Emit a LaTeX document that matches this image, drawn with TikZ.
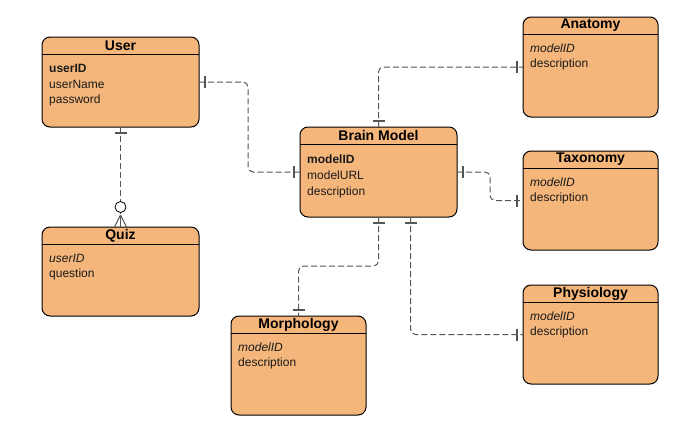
\documentclass[tikz,border=0pt]{standalone}
\usepackage{fontspec}
\setmainfont{Liberation Sans}
\begin{document}
\begin{tikzpicture}[x=1pt,y=-1pt,
  entity/.style={draw=black,fill=entfill,rounded corners=8pt,line width=1pt,
    anchor=north west,inner sep=0pt,outer sep=0pt},
  ttl/.style={font=\fontsize{14}{16}\selectfont\bfseries,text=black,inner sep=0pt},
  fld/.style={font=\fontsize{12}{14}\selectfont,text=txt,anchor=west,inner sep=0pt},
  conn/.style={draw=lnc,line width=1pt,dash pattern=on 6pt off 3pt,rounded corners=5pt},
  barline/.style={draw=lnc,line width=1.2pt},
  foot/.style={draw=lnc,line width=1pt}]
\definecolor{entfill}{HTML}{F4B67B}
\definecolor{lnc}{HTML}{555555}
\definecolor{txt}{HTML}{1A1A1A}
\useasboundingbox (0,0) rectangle (674,431);

% entities
\node[entity,minimum width=157pt,minimum height=90pt] (user) at (42,37) {};
\node[entity,minimum width=157pt,minimum height=89pt] (quiz) at (42,227) {};
\node[entity,minimum width=157pt,minimum height=90pt] (brain) at (300,127) {};
\node[entity,minimum width=135pt,minimum height=100pt] (anat) at (523,17) {};
\node[entity,minimum width=135pt,minimum height=99pt] (taxo) at (523,151) {};
\node[entity,minimum width=135pt,minimum height=99pt] (phys) at (523,285) {};
\node[entity,minimum width=135pt,minimum height=99pt] (morph) at (231,316) {};

% header separators
\foreach \e in {user,quiz,brain,anat,taxo,phys,morph}{
  \draw[line width=1pt] ([yshift=-17pt]\e.north west) -- ([yshift=-17pt]\e.north east);
}

% titles
\node[ttl] (tuser) at ([yshift=-8.5pt]user.north) {User};
\node[ttl] (tquiz) at ([yshift=-8.5pt]quiz.north) {Quiz};
\node[ttl] (tbrain) at ([yshift=-8.5pt]brain.north) {Brain Model};
\node[ttl] (tanat) at ([yshift=-8.5pt]anat.north) {Anatomy};
\node[ttl] (ttaxo) at ([yshift=-8.5pt]taxo.north) {Taxonomy};
\node[ttl] (tphys) at ([yshift=-8.5pt]phys.north) {Physiology};
\node[ttl] (tmorph) at ([yshift=-8.5pt]morph.north) {Morphology};

% fields
\node[fld] (u1) at ([xshift=7pt,yshift=-31pt]user.north west) {\bfseries userID};
\node[fld] (u2) at ([xshift=7pt,yshift=-47pt]user.north west) {userName};
\node[fld] (u3) at ([xshift=7pt,yshift=-63pt]user.north west) {password};

\node[fld] (q1) at ([xshift=7pt,yshift=-31pt]quiz.north west) {\itshape userID};
\node[fld] (q2) at ([xshift=7pt,yshift=-47pt]quiz.north west) {question};

\node[fld] (b1) at ([xshift=7pt,yshift=-32pt]brain.north west) {\bfseries modelID};
\node[fld] (b2) at ([xshift=7pt,yshift=-48pt]brain.north west) {modelURL};
\node[fld] (b3) at ([xshift=7pt,yshift=-65pt]brain.north west) {description};

\foreach \e in {anat,taxo,phys,morph}{
  \node[fld] (\e f1) at ([xshift=7pt,yshift=-31pt]\e.north west) {\itshape modelID};
  \node[fld] (\e f2) at ([xshift=7pt,yshift=-47pt]\e.north west) {description};
}

% connectors
\coordinate (bs2) at ([xshift=32pt]brain.south);
\draw[conn] (user.east) -- ++(49,0) |- (brain.west);
\draw[conn] (user.south) -- (quiz.north);
\draw[conn] (brain.north) |- (anat.west);
\draw[conn] (brain.east) -- ++(33,0) |- (taxo.west);
\draw[conn] (brain.south) -- ++(0,49) -| (morph.north);
\draw[conn] (bs2) |- (phys.west);

% bars (mandatory one)
\draw[barline] ([xshift=6pt]user.east) +(0,-6) -- +(0,6);
\draw[barline] ([xshift=-6pt]brain.west) +(0,-6) -- +(0,6);
\draw[barline] ([yshift=-6pt]user.south) +(-6,0) -- +(6,0);
\draw[barline] ([yshift=6pt]brain.north) +(-6,0) -- +(6,0);
\draw[barline] ([xshift=-6pt]anat.west) +(0,-6) -- +(0,6);
\draw[barline] ([xshift=6pt]brain.east) +(0,-6) -- +(0,6);
\draw[barline] ([xshift=-6pt]taxo.west) +(0,-6) -- +(0,6);
\draw[barline] ([yshift=-6pt]brain.south) +(-6,0) -- +(6,0);
\draw[barline] ([yshift=6pt]morph.north) +(-6,0) -- +(6,0);
\draw[barline] ([yshift=-6pt]bs2) +(-6,0) -- +(6,0);
\draw[barline] ([xshift=-6pt]phys.west) +(0,-6) -- +(0,6);

% zero-or-many at quiz
\draw[foot] ([yshift=12pt]quiz.north) -- ([xshift=-6pt]quiz.north);
\draw[foot] ([yshift=12pt]quiz.north) -- ([xshift=6pt]quiz.north);
\draw[foot] ([yshift=12pt]quiz.north) -- (quiz.north);
\node[draw=black,fill=white,circle,line width=0.8pt,minimum size=11pt,inner sep=0pt] (qc) at ([yshift=20pt]quiz.north) {};
\end{tikzpicture}
\end{document}
